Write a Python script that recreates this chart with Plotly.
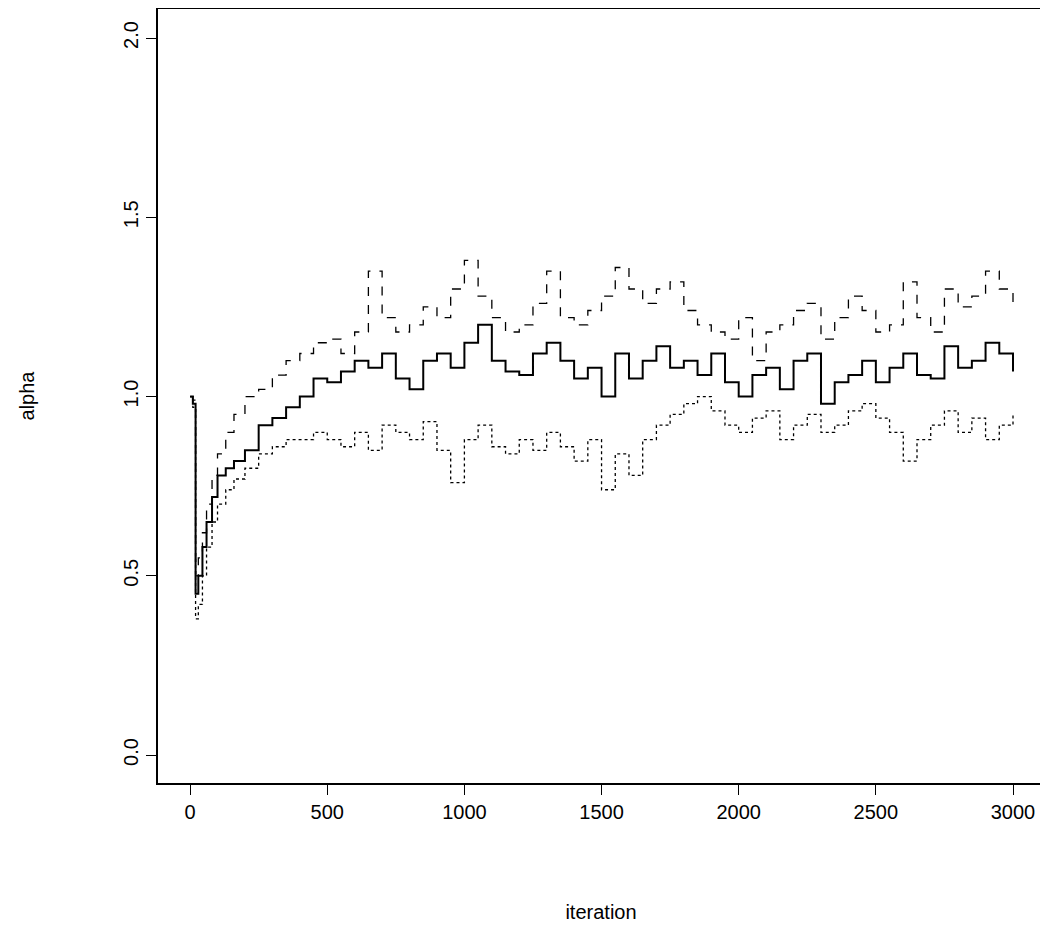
import plotly.graph_objects as go

# iterations at which the trace values were read
iters = [0, 10, 20, 30, 45, 60, 80, 100, 130, 160, 200, 250, 300, 350, 400, 450] + list(range(500, 3001, 50))

median = [1.00, 0.98, 0.45, 0.50, 0.58, 0.65, 0.72, 0.78, 0.80, 0.82, 0.85, 0.92, 0.94, 0.97, 1.00, 1.05,
          1.04, 1.07, 1.10, 1.08, 1.12, 1.05, 1.02, 1.10, 1.12, 1.08, 1.15, 1.20, 1.10, 1.07, 1.06,
          1.12, 1.15, 1.10, 1.05, 1.08, 1.00, 1.12, 1.05, 1.10, 1.14, 1.08, 1.10, 1.06, 1.12, 1.04,
          1.00, 1.06, 1.08, 1.02, 1.10, 1.12, 0.98, 1.04, 1.06, 1.10, 1.04, 1.08, 1.12, 1.06, 1.05,
          1.14, 1.08, 1.10, 1.15, 1.12, 1.07]

upper = [1.00, 0.99, 0.50, 0.55, 0.62, 0.70, 0.78, 0.84, 0.90, 0.95, 1.00, 1.02, 1.06, 1.10, 1.12, 1.15,
         1.16, 1.12, 1.18, 1.35, 1.22, 1.18, 1.20, 1.25, 1.22, 1.30, 1.38, 1.28, 1.22, 1.18, 1.20,
         1.26, 1.35, 1.22, 1.20, 1.24, 1.28, 1.36, 1.30, 1.26, 1.30, 1.32, 1.24, 1.20, 1.18, 1.16,
         1.22, 1.10, 1.18, 1.20, 1.24, 1.26, 1.16, 1.22, 1.28, 1.24, 1.18, 1.20, 1.32, 1.22, 1.18,
         1.30, 1.25, 1.28, 1.35, 1.30, 1.26]

lower = [1.00, 0.97, 0.38, 0.42, 0.50, 0.58, 0.65, 0.70, 0.74, 0.77, 0.80, 0.84, 0.86, 0.88, 0.88, 0.90,
         0.88, 0.86, 0.90, 0.85, 0.92, 0.90, 0.88, 0.93, 0.85, 0.76, 0.88, 0.92, 0.86, 0.84, 0.88,
         0.85, 0.90, 0.86, 0.82, 0.88, 0.74, 0.84, 0.78, 0.88, 0.92, 0.95, 0.98, 1.00, 0.96, 0.92,
         0.90, 0.94, 0.96, 0.88, 0.92, 0.95, 0.90, 0.92, 0.96, 0.98, 0.94, 0.90, 0.82, 0.88, 0.92,
         0.96, 0.90, 0.94, 0.88, 0.92, 0.95]

fig = go.Figure()
for vals, dash, w in [(median, "solid", 2), (upper, "dash", 1.3), (lower, "dot", 1.3)]:
    fig.add_trace(go.Scatter(x=iters, y=vals, mode="lines", line_shape="hv",
                             line=dict(color="black", dash=dash, width=w), showlegend=False))

axis = dict(showgrid=False, zeroline=False, showline=True, mirror=True, linecolor="black",
            linewidth=1.5, ticks="outside", ticklen=10, tickcolor="black", automargin=False,
            tickfont=dict(size=20, color="black"))
fig.update_xaxes(axis, range=[-117, 3113], tickvals=[0, 500, 1000, 1500, 2000, 2500, 3000],
                 title=dict(text="iteration", font=dict(size=20, color="black"), standoff=83))
fig.update_yaxes(axis, range=[-0.078, 2.081], tickvals=[0, 0.5, 1.0, 1.5, 2.0],
                 ticktext=["0.0", "0.5", "1.0", "1.5", "2.0"], tickangle=-90,
                 title=dict(text="alpha", font=dict(size=20, color="black"), standoff=80))
fig.update_layout(width=1048, height=928, margin=dict(l=150, r=12, t=1, b=153),
                  plot_bgcolor="white", paper_bgcolor="white",
                  font=dict(family="Liberation Sans"))
fig.write_html("out.html")
